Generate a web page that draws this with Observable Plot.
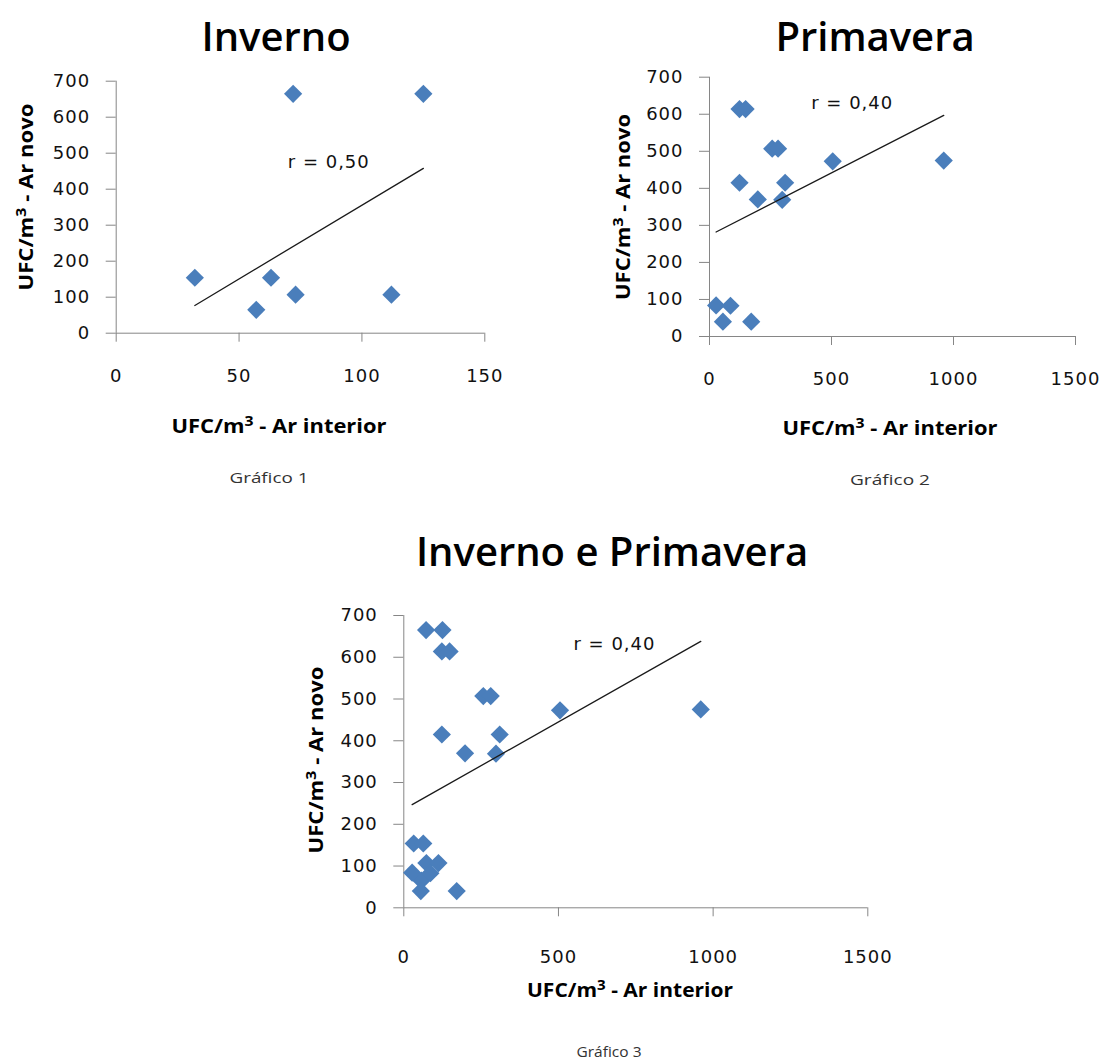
<!DOCTYPE html>
<html>
<head>
<meta charset="utf-8">
<script src="https://cdn.jsdelivr.net/npm/d3@7"></script>
<script src="https://cdn.jsdelivr.net/npm/@observablehq/plot@0.6"></script>
<style>
  html, body { margin: 0; padding: 0; background: #fff; }
  #page { position: relative; width: 1103px; height: 1061px; overflow: hidden; background: #fff; }
  .chart { position: absolute; }
  #overlay { position: absolute; left: 0; top: 0; pointer-events: none; }
</style>
</head>
<body>
<div id="page">
  <div id="c1" class="chart" style="left:0px; top:60px;"></div>
  <div id="c2" class="chart" style="left:590px; top:60px;"></div>
  <div id="c3" class="chart" style="left:290px; top:590px;"></div>
  <svg id="overlay" width="1103" height="1061"></svg>
</div>
<script>
// ---- Data ----
const invernoX   = [32, 57, 63, 72, 73, 112, 125];
const invernoY   = [154, 65, 154, 665, 107, 107, 665];
const primaveraX = [27, 55, 86, 123, 148, 123, 171, 198, 257, 281, 298, 310, 505, 960];
const primaveraY = [84, 40, 83, 614, 614, 415, 40, 370, 507, 507, 369, 415, 473, 475];

// trend line end points (x, y)
const trend1X = [32, 125],  trend1Y = [77, 458];
const trend2X = [27, 960],  trend2Y = [282, 597];
const trend3X = [27, 960],  trend3Y = [247, 638];

// correlation labels and their anchor (data units)
const rLabels = ["r = 0,50", "r = 0,40", "r = 0,40"];
const rX = [86.5, 585, 681];
const rY = [475, 630, 630];

const yTicks  = [0, 100, 200, 300, 400, 500, 600, 700];
const xTicks1 = [0, 50, 100, 150];
const xTicks2 = [0, 500, 1000, 1500];

const titles   = ["Inverno", "Primavera", "Inverno e Primavera"];
const yTitle   = ["UFC/m", "3", " - Ar novo"];
const xTitle   = ["UFC/m", "3", " - Ar interior"];
const captions = ["Gráfico 1", "Gráfico 2", "Gráfico 3"];

// ---- helpers ----
const pts = (xs, ys) => xs.map((x, i) => ({x, y: ys[i]}));
const axisColor = "#868686";
const ink = "#111";
const blue = "#4a7ebb";

function chart({xs, ys, tx, ty, xDomain, xTicks, ri, width, height, ml, mr, mt, mb, padX}) {
  return Plot.plot({
    width, height,
    marginLeft: ml, marginRight: mr, marginTop: mt, marginBottom: mb,
    x: {domain: xDomain},
    y: {domain: [0, 700]},
    style: {
      fontFamily: '"DejaVu Sans", sans-serif',
      fontSize: "18px",
      letterSpacing: "1px",
      background: "transparent",
      overflow: "visible",
      color: ink
    },
    marks: [
      Plot.ruleY([0], {stroke: axisColor, strokeWidth: 1}),
      Plot.ruleX([0], {stroke: axisColor, strokeWidth: 1}),
      Plot.axisX({ticks: xTicks, tickSize: 9, tickPadding: padX, tickFormat: d => String(d),
                  label: null, stroke: axisColor, fill: ink, fontSize: 18}),
      Plot.axisY({ticks: yTicks, tickSize: 10, tickPadding: 16, tickFormat: d => String(d),
                  label: null, stroke: axisColor, fill: ink, fontSize: 18}),
      Plot.dot(pts(xs, ys), {x: "x", y: "y", symbol: "diamond2", r: 8.2, fill: blue, stroke: "none"}),
      Plot.line(pts(tx, ty), {x: "x", y: "y", stroke: "#1a1a1a", strokeWidth: 1.3}),
      Plot.text([rLabels[ri]], {x: () => rX[ri], y: () => rY[ri], text: d => d, fill: ink, fontSize: 18})
    ]
  });
}

document.getElementById("c1").append(chart({
  xs: invernoX, ys: invernoY, tx: trend1X, ty: trend1Y,
  xDomain: [0, 150], xTicks: xTicks1, ri: 0,
  width: 530, height: 340, ml: 115.7, mr: 530 - 484.3, mt: 20.7, mb: 340 - 272.7, padX: 27.5
}));

document.getElementById("c2").append(chart({
  xs: primaveraX, ys: primaveraY, tx: trend2X, ty: trend2Y,
  xDomain: [0, 1500], xTicks: xTicks2, ri: 1,
  width: 510, height: 330, ml: 119, mr: 25, mt: 16.7, mb: 330 - 276, padX: 26.8
}));

document.getElementById("c3").append(chart({
  xs: invernoX.concat(primaveraX), ys: invernoY.concat(primaveraY), tx: trend3X, ty: trend3Y,
  xDomain: [0, 1500], xTicks: xTicks2, ri: 2,
  width: 600, height: 400, ml: 113.3, mr: 600 - 577.3, mt: 25, mb: 400 - 317.3, padX: 33
}));

// ---- Titles, axis titles and captions ----
const ov = d3.select("#overlay");
function txt(s, x, y, o) {
  const t = ov.append("text")
    .attr("x", 0).attr("y", 0)
    .attr("transform", `translate(${x},${y})` + (o.rot ? " rotate(-90)" : ""))
    .attr("text-anchor", "middle")
    .attr("font-family", '"Open Sans", sans-serif')
    .attr("font-size", o.size)
    .attr("font-weight", o.weight)
    .attr("fill", o.fill || "#000");
  if (Array.isArray(s)) {
    // base text, superscript, rest
    t.append("tspan").text(s[0]);
    t.append("tspan").attr("dy", -o.size * 0.38).attr("font-size", o.size * 0.72).text(s[1]);
    t.append("tspan").attr("dy", o.size * 0.38).text(s[2]);
  } else {
    t.text(s);
  }
  if (o.len) t.attr("textLength", o.len).attr("lengthAdjust", "spacingAndGlyphs");
}
txt(titles[0], 276, 51, {size: 40, weight: 600});
txt(titles[1], 875, 51, {size: 40, weight: 600});
txt(titles[2], 612, 566, {size: 40, weight: 600});

txt(yTitle, 33, 197, {size: 19, weight: 700, rot: true, len: 187});
txt(yTitle, 630, 207, {size: 19, weight: 700, rot: true, len: 186});
txt(yTitle, 323, 760, {size: 19, weight: 700, rot: true, len: 187});

txt(xTitle, 279, 433, {size: 19, weight: 700, len: 215});
txt(xTitle, 890, 435, {size: 19, weight: 700, len: 215});
txt(xTitle, 630, 997, {size: 19, weight: 700, len: 206});

txt(captions[0], 269, 483, {size: 15, weight: 400, len: 79, fill: "#333"});
txt(captions[1], 890, 485, {size: 15, weight: 400, len: 80, fill: "#333"});
txt(captions[2], 609, 1057, {size: 14, weight: 400, len: 65, fill: "#333"});
</script>
</body>
</html>
